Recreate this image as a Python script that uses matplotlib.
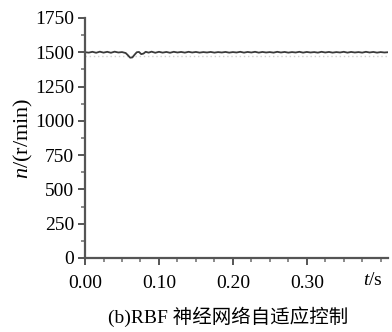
import numpy as np
import matplotlib
matplotlib.use("Agg")
import matplotlib.pyplot as plt
from matplotlib.ticker import MultipleLocator

plt.rcParams['font.family'] = ['Liberation Serif', 'Noto Sans CJK SC']
plt.rcParams['mathtext.fontset'] = 'custom'
plt.rcParams['mathtext.rm'] = 'Liberation Serif'
plt.rcParams['mathtext.it'] = 'Liberation Serif:italic'

# speed response (r/min)
t = [0.000, 0.005, 0.010, 0.015, 0.020, 0.025, 0.030, 0.035, 0.040, 0.045,
     0.050, 0.055, 0.058, 0.061, 0.064, 0.067, 0.070, 0.073, 0.076, 0.079,
     0.082, 0.086, 0.090, 0.095, 0.100, 0.105, 0.110, 0.115, 0.120, 0.125,
     0.130, 0.135, 0.140, 0.145, 0.150, 0.155, 0.160, 0.165, 0.170, 0.175,
     0.180, 0.185, 0.190, 0.195, 0.200, 0.205, 0.210, 0.215, 0.220, 0.225,
     0.230, 0.235, 0.240, 0.245, 0.250, 0.255, 0.260, 0.265, 0.270, 0.275,
     0.280, 0.285, 0.290, 0.295, 0.300, 0.305, 0.310, 0.315, 0.320, 0.325,
     0.330, 0.335, 0.340, 0.345, 0.350, 0.355, 0.360, 0.365, 0.370, 0.375,
     0.380, 0.385, 0.390, 0.395, 0.400, 0.405, 0.410]
n = [1500, 1497, 1503, 1496, 1504, 1497, 1503, 1496, 1504, 1498,
     1501, 1494, 1478, 1460, 1462, 1482, 1500, 1502, 1486, 1490,
     1503, 1497, 1504, 1496, 1503, 1497, 1502, 1496, 1503, 1498,
     1502, 1497, 1503, 1498, 1502, 1497, 1501, 1498, 1502, 1497,
     1501, 1498, 1502, 1497, 1501, 1498, 1503, 1497, 1502, 1498,
     1503, 1497, 1502, 1498, 1501, 1497, 1503, 1498, 1502, 1497,
     1501, 1498, 1503, 1497, 1502, 1498, 1501, 1497, 1503, 1498,
     1502, 1497, 1501, 1498, 1503, 1497, 1502, 1498, 1501, 1497,
     1503, 1498, 1502, 1497, 1501, 1498, 1500]
ref_t = [0.0, 0.41]
ref_n = [1475, 1475]

x_ticks = [0.00, 0.10, 0.20, 0.30]
x_labels = ["0.00", "0.10", "0.20", "0.30"]
y_ticks = [0, 250, 500, 750, 1000, 1250, 1500, 1750]

fig = plt.figure(figsize=(3.92, 3.32), dpi=100)
ax = fig.add_axes([0.217, 0.223, 0.773, 0.723])

ax.plot(ref_t, ref_n, color="#d0d0d0", lw=1.0, ls=(0, (1, 2)))
ax.plot(t, n, color="#3a3a3a", lw=1.3)

ax.set_xlim(0, 0.41)
ax.set_ylim(0, 1750)
ax.set_xticks(x_ticks)
ax.set_xticklabels(x_labels)
ax.set_yticks(y_ticks)
ax.xaxis.set_minor_locator(MultipleLocator(0.025))
ax.yaxis.set_minor_locator(MultipleLocator(125))

for side in ["top", "right"]:
    ax.spines[side].set_visible(False)
for side in ["left", "bottom"]:
    ax.spines[side].set_color("#555555")
    ax.spines[side].set_linewidth(1.6)

ax.tick_params(which="major", direction="out", length=5, width=1.4,
               color="#555555", labelsize=14)
ax.tick_params(axis="x", which="major", pad=7)
ax.tick_params(axis="y", which="major", pad=3)
ax.tick_params(which="minor", direction="out", length=3, width=1.2,
               color="#777777")

ax.set_ylabel(r"$n$/(r/min)", fontsize=16, labelpad=0)
ax.text(0.39, -0.06, r"$t$/s", transform=ax.get_xaxis_transform(),
        ha="center", va="top", fontsize=14)

fig.text(0.582, 0.045, "(b)RBF 神经网络自适应控制", ha="center", va="center",
         fontsize=14)

fig.savefig("out.png", dpi=100)
